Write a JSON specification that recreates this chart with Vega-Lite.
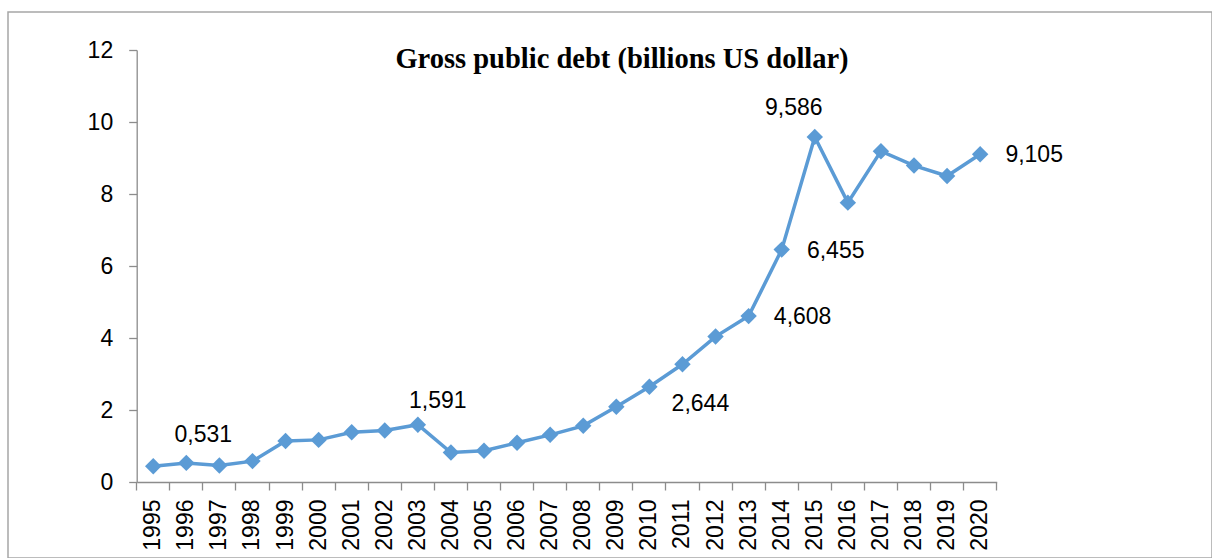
{
  "$schema": "https://vega.github.io/schema/vega-lite/v6.json",
  "width": 1204,
  "height": 546,
  "autosize": {"type": "none"},
  "padding": {"left": 8, "top": 12, "right": 0, "bottom": 0},
  "background": "white",
  "config": {
    "view": {"stroke": "#a6a6a6", "strokeWidth": 1.5},
    "font": "Liberation Sans"
  },
  "title": {
    "text": "Gross public debt (billions US dollar)",
    "font": "Liberation Serif",
    "fontSize": 28.5,
    "fontWeight": "bold",
    "color": "#000000",
    "anchor": "middle",
    "dx": 12,
    "offset": -84,
    "baseline": "alphabetic"
  },
  "data": {
    "values": [
      {"year": "1995", "debt": 0.44, "label": ""},
      {"year": "1996", "debt": 0.531, "label": "0,531"},
      {"year": "1997", "debt": 0.46, "label": ""},
      {"year": "1998", "debt": 0.58, "label": ""},
      {"year": "1999", "debt": 1.14, "label": ""},
      {"year": "2000", "debt": 1.17, "label": ""},
      {"year": "2001", "debt": 1.38, "label": ""},
      {"year": "2002", "debt": 1.43, "label": ""},
      {"year": "2003", "debt": 1.591, "label": "1,591"},
      {"year": "2004", "debt": 0.82, "label": ""},
      {"year": "2005", "debt": 0.87, "label": ""},
      {"year": "2006", "debt": 1.09, "label": ""},
      {"year": "2007", "debt": 1.31, "label": ""},
      {"year": "2008", "debt": 1.56, "label": ""},
      {"year": "2009", "debt": 2.09, "label": ""},
      {"year": "2010", "debt": 2.644, "label": "2,644"},
      {"year": "2011", "debt": 3.27, "label": ""},
      {"year": "2012", "debt": 4.04, "label": ""},
      {"year": "2013", "debt": 4.608, "label": "4,608"},
      {"year": "2014", "debt": 6.455, "label": "6,455"},
      {"year": "2015", "debt": 9.586, "label": "9,586"},
      {"year": "2016", "debt": 7.76, "label": ""},
      {"year": "2017", "debt": 9.19, "label": ""},
      {"year": "2018", "debt": 8.79, "label": ""},
      {"year": "2019", "debt": 8.5, "label": ""},
      {"year": "2020", "debt": 9.105, "label": "9,105"}
    ]
  },
  "encoding": {
    "x": {
      "field": "year",
      "type": "ordinal",
      "bandPosition": 0.5,
      "scale": {"type": "band", "paddingInner": 0, "paddingOuter": 0, "range": [128.7, 988.7]},
      "axis": {
        "title": null,
        "offset": -76,
        "bandPosition": 1,
        "tickExtra": true,
        "labelAngle": -90,
        "labelAlign": "right",
        "labelBaseline": "middle",
        "labelFontSize": 23,
        "labelColor": "#000000",
        "labelPadding": 9,
        "labelOverlap": false,
        "tickSize": 8,
        "tickWidth": 1.3,
        "tickColor": "#8c8c8c",
        "domainColor": "#8c8c8c",
        "domainWidth": 1.3,
        "grid": false
      }
    },
    "y": {
      "field": "debt",
      "type": "quantitative",
      "scale": {"domain": [0, 12], "range": [470, 38], "nice": false, "zero": true},
      "axis": {
        "title": null,
        "offset": -128.7,
        "values": [0, 2, 4, 6, 8, 10, 12],
        "labelFontSize": 23,
        "labelColor": "#000000",
        "labelPadding": 16,
        "tickSize": 8,
        "tickWidth": 1.3,
        "tickColor": "#8c8c8c",
        "domainColor": "#8c8c8c",
        "domainWidth": 1.3,
        "grid": false
      }
    }
  },
  "layer": [
    {"mark": {"type": "line", "color": "#5B9BD5", "strokeWidth": 3.5}},
    {"mark": {"type": "point", "shape": "diamond", "filled": true, "size": 270, "color": "#5B9BD5", "opacity": 1}},
    {
      "transform": [{"filter": "datum.year == '1996'"}],
      "mark": {"type": "text", "fontSize": 23, "color": "#000000", "align": "center", "baseline": "middle", "dx": 17, "dy": -28},
      "encoding": {"text": {"field": "label"}}
    },
    {
      "transform": [{"filter": "datum.year == '2003'"}],
      "mark": {"type": "text", "fontSize": 23, "color": "#000000", "align": "center", "baseline": "middle", "dx": 20, "dy": -24},
      "encoding": {"text": {"field": "label"}}
    },
    {
      "transform": [{"filter": "datum.year == '2010'"}],
      "mark": {"type": "text", "fontSize": 23, "color": "#000000", "align": "center", "baseline": "middle", "dx": 51, "dy": 17},
      "encoding": {"text": {"field": "label"}}
    },
    {
      "transform": [{"filter": "datum.year == '2013' || datum.year == '2014' || datum.year == '2020'"}],
      "mark": {"type": "text", "fontSize": 23, "color": "#000000", "align": "center", "baseline": "middle", "dx": 54, "dy": 1},
      "encoding": {"text": {"field": "label"}}
    },
    {
      "transform": [{"filter": "datum.year == '2015'"}],
      "mark": {"type": "text", "fontSize": 23, "color": "#000000", "align": "center", "baseline": "middle", "dx": -21, "dy": -29},
      "encoding": {"text": {"field": "label"}}
    }
  ]
}
